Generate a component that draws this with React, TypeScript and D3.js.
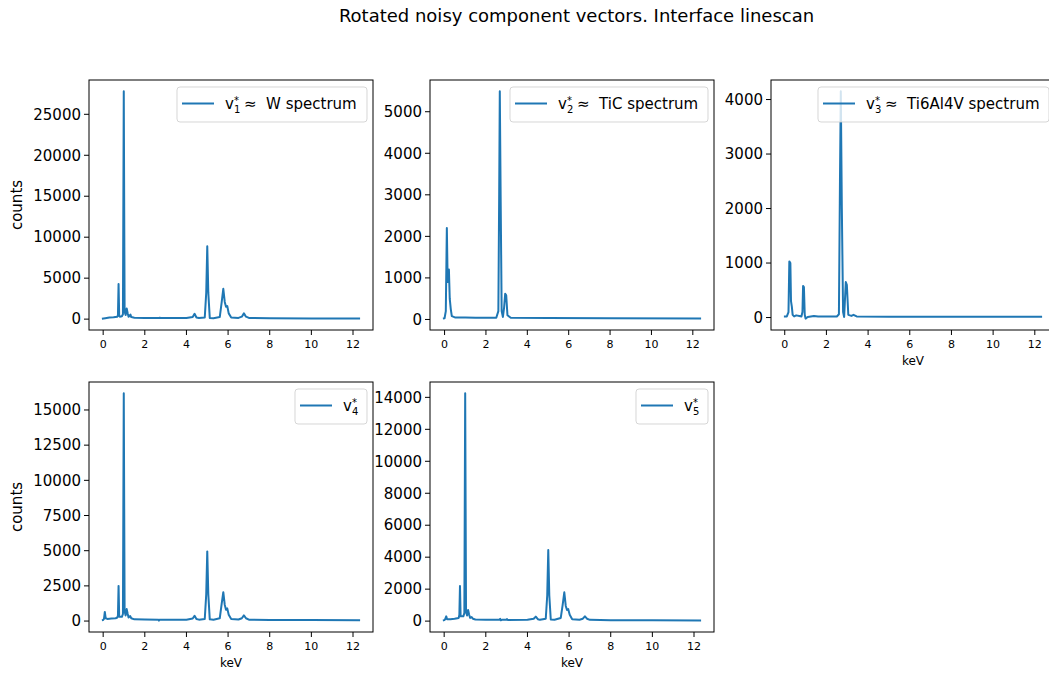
import React from "react";
import * as d3 from "d3";

// Spectra as [keV, counts] vertices
const wSpectrum: [number, number][] = [
  [-0.06, 60], [0.1, 120], [0.3, 200], [0.5, 240], [0.68, 300], [0.71, 500], [0.74, 4300], [0.77, 400],
  [0.8, 300], [0.9, 350], [0.95, 600], [0.99, 27800], [1.03, 900], [1.08, 500], [1.13, 1300], [1.18, 700],
  [1.22, 300], [1.28, 450], [1.31, 550], [1.35, 250], [1.5, 180], [2.0, 150], [2.7, 140], [2.72, 170],
  [2.75, 140], [4.0, 130], [4.3, 250], [4.39, 650], [4.48, 200], [4.6, 130], [4.88, 200], [4.95, 3200],
  [5.0, 8900], [5.05, 3200], [5.12, 150], [5.3, 120], [5.6, 250], [5.69, 2000], [5.77, 3700], [5.84, 2100],
  [5.9, 1500], [5.96, 1600], [6.03, 700], [6.15, 200], [6.5, 150], [6.66, 300], [6.76, 700], [6.86, 300],
  [7.0, 150], [8, 110], [10, 90], [12.34, 80],
];

const ticSpectrum: [number, number][] = [
  [-0.08, 20], [0.0, 30], [0.06, 200], [0.11, 2200], [0.15, 900], [0.19, 1100], [0.21, 1200], [0.25, 500],
  [0.3, 250], [0.35, 80], [0.5, 50], [1.0, 45], [1.5, 40], [2.0, 40], [2.5, 40], [2.6, 200], [2.64, 3000],
  [2.67, 5490], [2.71, 3000], [2.76, 200], [2.82, 60], [2.88, 300], [2.93, 620], [2.98, 580], [3.04, 100],
  [3.2, 40], [5, 35], [8, 30], [12.4, 25],
];

const ti64Spectrum: [number, number][] = [
  [-0.04, 20], [0.1, 20], [0.18, 100], [0.22, 1030], [0.27, 1000], [0.3, 300], [0.34, 200], [0.38, 50],
  [0.45, 20], [0.55, 40], [0.7, 30], [0.8, 20], [0.85, 100], [0.88, 580], [0.92, 560], [0.96, 50],
  [1.0, -20], [1.1, 10], [1.4, 30], [1.6, 20], [2.0, 20], [2.5, 20], [2.6, 60], [2.65, 2500], [2.69, 4150],
  [2.74, 2000], [2.8, 100], [2.85, 10], [2.93, 650], [2.98, 600], [3.05, 50], [3.2, 30], [3.3, 50],
  [3.45, 20], [5.0, 15], [8, 15], [12.35, 15],
];

const v4Spectrum: [number, number][] = [
  [-0.06, 50], [0.0, 80], [0.04, 150], [0.08, 650], [0.12, 200], [0.2, 150], [0.4, 180], [0.6, 200],
  [0.68, 250], [0.71, 400], [0.74, 2500], [0.77, 300], [0.9, 300], [0.95, 500], [0.99, 16180], [1.03, 700],
  [1.08, 400], [1.13, 850], [1.18, 500], [1.22, 250], [1.3, 350], [1.35, 200], [1.5, 120], [2.0, 110],
  [2.66, 100], [2.68, 30], [2.7, 100], [3.0, 100], [4.0, 100], [4.3, 180], [4.39, 380], [4.48, 150],
  [4.6, 100], [4.88, 150], [4.95, 1900], [5.0, 4950], [5.05, 1900], [5.12, 120], [5.3, 100], [5.6, 200],
  [5.69, 1200], [5.77, 2050], [5.84, 1150], [5.9, 800], [5.96, 900], [6.03, 450], [6.15, 150], [6.5, 110],
  [6.66, 200], [6.76, 400], [6.86, 200], [7.0, 100], [8, 80], [10, 70], [12.34, 60],
];

const v5Spectrum: [number, number][] = [
  [-0.06, 30], [0.0, 60], [0.05, 120], [0.1, 300], [0.14, 120], [0.3, 120], [0.5, 150], [0.7, 200],
  [0.73, 400], [0.76, 2200], [0.79, 300], [0.92, 300], [0.97, 500], [1.01, 14250], [1.05, 600], [1.1, 350],
  [1.15, 700], [1.2, 400], [1.25, 200], [1.32, 250], [1.38, 150], [1.5, 100], [2.0, 90], [2.66, 90],
  [2.69, 150], [2.72, 50], [2.8, 90], [3.0, 80], [3.02, 130], [3.05, 70], [4.0, 80], [4.3, 150],
  [4.4, 280], [4.5, 120], [4.6, 80], [4.88, 150], [4.95, 1600], [5.0, 4450], [5.05, 1600], [5.12, 100],
  [5.3, 90], [5.6, 200], [5.69, 1000], [5.77, 1800], [5.84, 950], [5.9, 700], [5.96, 750], [6.03, 400],
  [6.15, 120], [6.5, 90], [6.66, 150], [6.76, 300], [6.86, 150], [7.0, 80], [8, 60], [10, 50], [12.34, 40],
];

const xTicks = [0, 2, 4, 6, 8, 10, 12];
const yTicks1 = [0, 5000, 10000, 15000, 20000, 25000];
const yTicks2 = [0, 1000, 2000, 3000, 4000, 5000];
const yTicks3 = [0, 1000, 2000, 3000, 4000];
const yTicks4 = [0, 2500, 5000, 7500, 10000, 12500, 15000];
const yTicks5 = [0, 2000, 4000, 6000, 8000, 10000, 12000, 14000];

const componentIndex = ["1", "2", "3", "4", "5"];
const componentNames = ["W spectrum", "TiC spectrum", "Ti6Al4V spectrum", "", ""];

const TITLE = "Rotated noisy component vectors. Interface linescan";
const FONT = "DejaVu Sans, sans-serif";
const LINE = "#1f77b4";

type PanelSpec = {
  data: [number, number][];
  yTicks: number[];
  left: number;
  top: number;
  width: number;
  height: number;
  idx: string;
  name: string;
  legendW: number;
  ylabel: boolean;
  xlabel: boolean;
};

// Autoscaled extent with a 5% margin on each side
function padded(lo: number, hi: number): [number, number] {
  const r = hi - lo;
  return [lo - 0.05 * r, hi + 0.05 * r];
}

function Panel({ p }: { p: PanelSpec }) {
  const xs = p.data.map((d) => d[0]);
  const ys = p.data.map((d) => d[1]);
  const x = d3.scaleLinear().domain(padded(d3.min(xs)!, d3.max(xs)!)).range([0, p.width]);
  const y = d3.scaleLinear().domain(padded(d3.min(ys)!, d3.max(ys)!)).range([p.height, 0]);
  const line = d3
    .line<[number, number]>()
    .x((d) => x(d[0]))
    .y((d) => y(d[1]));

  const legH = 35;
  const legX = p.width - 6 - p.legendW;
  const legY = 7;
  const hy = legY + 16.5;
  const tx = legX + 48;
  const base = hy + 5;

  return (
    <g transform={`translate(${p.left},${p.top})`}>
      <path d={line(p.data) || ""} fill="none" stroke={LINE} strokeWidth={2} strokeLinejoin="round" />
      <rect x={0} y={0} width={p.width} height={p.height} fill="none" stroke="#000" strokeWidth={1} />
      {/* y axis */}
      {p.yTicks.map((t) => (
        <g key={`y${t}`} transform={`translate(0,${y(t)})`}>
          <line x1={-5} x2={0} stroke="#000" strokeWidth={1} />
          <text x={-8} dy="0.35em" textAnchor="end" fontSize={15} fontFamily={FONT} fill="#000">
            {t}
          </text>
        </g>
      ))}
      {/* x axis */}
      {xTicks.map((t) => (
        <g key={`x${t}`} transform={`translate(${x(t)},${p.height})`}>
          <line y1={0} y2={5} stroke="#000" strokeWidth={1} />
          <text y={18} textAnchor="middle" fontSize={11} fontFamily={FONT} fill="#000">
            {t}
          </text>
        </g>
      ))}
      {p.xlabel && (
        <text x={p.width / 2} y={p.height + 35} textAnchor="middle" fontSize={12} fontFamily={FONT} fill="#000">
          keV
        </text>
      )}
      {p.ylabel && (
        <text
          transform={`translate(${17 - p.left},${p.height / 2}) rotate(-90)`}
          textAnchor="middle"
          dy="0.35em"
          fontSize={15}
          fontFamily={FONT}
          fill="#000"
        >
          counts
        </text>
      )}
      {/* legend */}
      <rect
        x={legX}
        y={legY}
        width={p.legendW}
        height={legH}
        rx={3}
        fill="#fff"
        fillOpacity={0.8}
        stroke="#ccc"
        strokeOpacity={0.8}
        strokeWidth={1}
      />
      <line x1={legX + 5} x2={legX + 37} y1={hy} y2={hy} stroke={LINE} strokeWidth={2} />
      <text x={tx} y={base} fontSize={15} fontFamily={FONT} fill="#000">
        v
      </text>
      <text x={tx + 9} y={base + 4} fontSize={10} fontFamily={FONT} fill="#000">
        {p.idx}
      </text>
      <text x={tx + 9} y={base - 5} fontSize={10} fontFamily={FONT} fill="#000">
        *
      </text>
      {p.name && (
        <text x={tx + 19} y={base} fontSize={15} fontFamily={FONT} fill="#000" xmlSpace="preserve">
          {"≈  " + p.name}
        </text>
      )}
    </g>
  );
}

export default function App() {
  const W = 1049;
  const H = 673;
  const pw = 284;
  const ph = 250;
  const panels: PanelSpec[] = [
    { data: wSpectrum, yTicks: yTicks1, left: 89, top: 80, width: pw, height: ph, idx: componentIndex[0], name: componentNames[0], legendW: 190, ylabel: true, xlabel: false },
    { data: ticSpectrum, yTicks: yTicks2, left: 430, top: 80, width: pw, height: ph, idx: componentIndex[1], name: componentNames[1], legendW: 198, ylabel: false, xlabel: false },
    { data: ti64Spectrum, yTicks: yTicks3, left: 771, top: 80, width: pw, height: ph, idx: componentIndex[2], name: componentNames[2], legendW: 231, ylabel: false, xlabel: true },
    { data: v4Spectrum, yTicks: yTicks4, left: 89, top: 382, width: pw, height: ph, idx: componentIndex[3], name: componentNames[3], legendW: 72, ylabel: true, xlabel: true },
    { data: v5Spectrum, yTicks: yTicks5, left: 430, top: 382, width: pw, height: ph, idx: componentIndex[4], name: componentNames[4], legendW: 72, ylabel: false, xlabel: true },
  ];
  return (
    <div style={{ position: "absolute", left: 0, top: 0, width: W, height: H, overflow: "hidden", background: "#fff" }}>
      <svg width={W} height={H} style={{ display: "block" }}>
        <rect width={W} height={H} fill="#fff" />
        <text x={576.5} y={22} textAnchor="middle" fontSize={18} fontFamily={FONT} fill="#000">
          {TITLE}
        </text>
        {panels.map((p, i) => (
          <Panel key={i} p={p} />
        ))}
      </svg>
    </div>
  );
}
